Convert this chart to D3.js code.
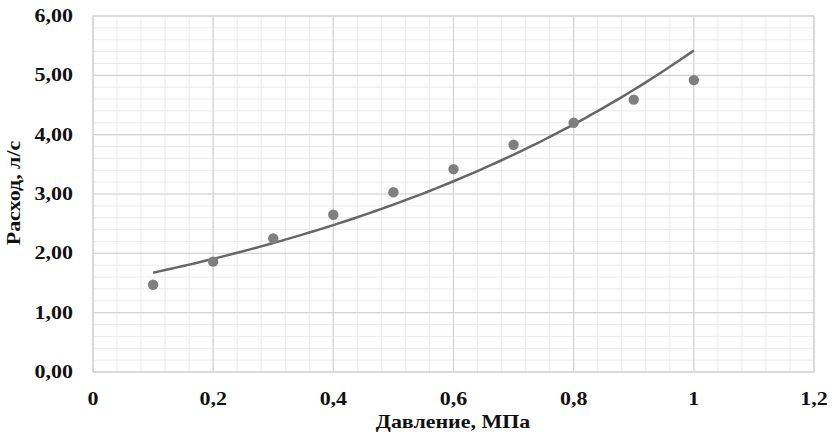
<!DOCTYPE html>
<html>
<head>
<meta charset="utf-8">
<script src="https://cdn.jsdelivr.net/npm/d3@7"></script>
<style>
  html, body { margin: 0; padding: 0; background: #fff; }
  svg text { font-family: "Liberation Serif", "Times New Roman", serif; font-weight: bold; fill: #111; }
</style>
</head>
<body>
<svg id="chart" width="834" height="447"></svg>
<script>
// Давление (МПа) и измеренный расход (л/с)
const pressure = [0.1, 0.2, 0.3, 0.4, 0.5, 0.6, 0.7, 0.8, 0.9, 1.0];
const flow     = [1.47, 1.86, 2.25, 2.65, 3.03, 3.42, 3.83, 4.20, 4.59, 4.92];

const xTicks = [0, 0.2, 0.4, 0.6, 0.8, 1.0, 1.2];
const yTicks = [0, 1, 2, 3, 4, 5, 6];
const xTickLabels = ["0", "0,2", "0,4", "0,6", "0,8", "1", "1,2"];
const yTickLabels = ["0,00", "1,00", "2,00", "3,00", "4,00", "5,00", "6,00"];

const xTitle = "Давление, МПа";
const yTitle = "Расход, л/с";

const svg = d3.select("#chart");
const plot = { left: 93, right: 814, top: 16, bottom: 372 };
const fontSize = 18;
const stretch = 1.22; // widened lettering

const x = d3.scaleLinear().domain([0, 1.2]).range([plot.left, plot.right]);
const y = d3.scaleLinear().domain([0, 6]).range([plot.bottom, plot.top]);

// minor grid
const g = svg.append("g");
const xMinor = d3.range(0, 1.2 + 1e-9, 0.04);
const yMinor = d3.range(0, 6 + 1e-9, 0.2);
g.selectAll("line.xm").data(xMinor).join("line")
  .attr("x1", d => x(d)).attr("x2", d => x(d))
  .attr("y1", plot.top).attr("y2", plot.bottom)
  .attr("stroke", "#ebebeb").attr("stroke-width", 1);
g.selectAll("line.ym").data(yMinor).join("line")
  .attr("y1", d => y(d)).attr("y2", d => y(d))
  .attr("x1", plot.left).attr("x2", plot.right)
  .attr("stroke", "#ebebeb").attr("stroke-width", 1);

// major grid
g.selectAll("line.xM").data(xTicks).join("line")
  .attr("x1", d => x(d)).attr("x2", d => x(d))
  .attr("y1", plot.top).attr("y2", plot.bottom)
  .attr("stroke", "#d4d4d4").attr("stroke-width", 1.2);
g.selectAll("line.yM").data(yTicks).join("line")
  .attr("y1", d => y(d)).attr("y2", d => y(d))
  .attr("x1", plot.left).attr("x2", plot.right)
  .attr("stroke", "#d4d4d4").attr("stroke-width", 1.2);

// plot frame
svg.append("rect")
  .attr("x", plot.left).attr("y", plot.top)
  .attr("width", plot.right - plot.left).attr("height", plot.bottom - plot.top)
  .attr("fill", "none").attr("stroke", "#d6d6d6").attr("stroke-width", 1.2);

// tick labels
svg.selectAll("text.xt").data(xTicks).join("text")
  .attr("text-anchor", "middle")
  .attr("font-size", fontSize)
  .attr("transform", d => `translate(${x(d)},404.5) scale(${stretch},1)`)
  .text((d, i) => xTickLabels[i]);
svg.selectAll("text.yt").data(yTicks).join("text")
  .attr("text-anchor", "end")
  .attr("font-size", fontSize)
  .attr("transform", d => `translate(73,${y(d) + 6}) scale(${stretch},1)`)
  .text((d, i) => yTickLabels[i]);

// axis titles
svg.append("text")
  .attr("text-anchor", "middle")
  .attr("font-size", fontSize)
  .attr("transform", `translate(453,428) scale(${stretch},1)`)
  .text(xTitle);
svg.append("text")
  .attr("text-anchor", "middle")
  .attr("font-size", fontSize)
  .attr("transform", `translate(19.5,193) rotate(-90) scale(${stretch},1)`)
  .text(yTitle);

// exponential trend line y = a·e^(b·x), least squares on ln(y)
const n = pressure.length;
const lnF = flow.map(Math.log);
const mx = d3.mean(pressure), ml = d3.mean(lnF);
const b = d3.sum(pressure, (p, i) => (p - mx) * (lnF[i] - ml)) / d3.sum(pressure, p => (p - mx) ** 2);
const a = Math.exp(ml - b * mx);
const trendX = d3.range(pressure[0], pressure[n - 1] + 1e-9, 0.01);
const line = d3.line().x(d => x(d)).y(d => y(a * Math.exp(b * d)));
svg.append("path")
  .datum(trendX)
  .attr("d", line)
  .attr("fill", "none")
  .attr("stroke", "#676767")
  .attr("stroke-width", 2.5);

// measured points
svg.selectAll("circle.pt").data(pressure).join("circle")
  .attr("cx", d => x(d))
  .attr("cy", (d, i) => y(flow[i]))
  .attr("r", 5.2)
  .attr("fill", "#7f7f7f");
</script>
</body>
</html>
